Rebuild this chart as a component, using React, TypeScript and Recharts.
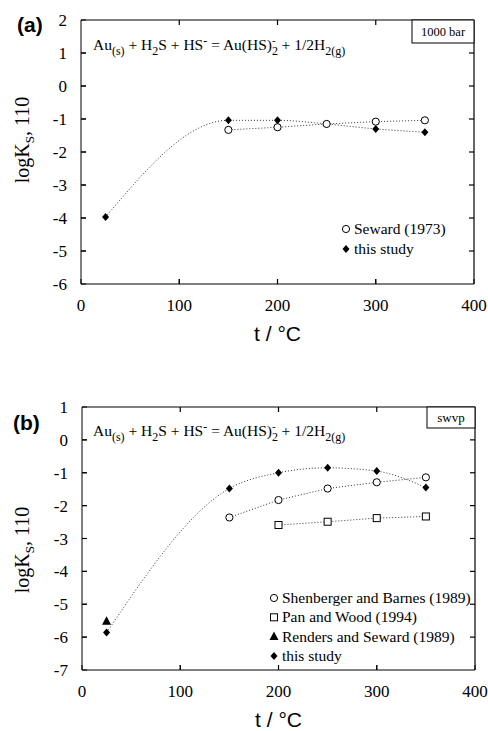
import { ComposedChart, Line, XAxis, YAxis } from 'recharts';

// panel (a) — 1000 bar
const A_STUDY_T = [25, 150, 200, 250, 300, 350];
const A_STUDY_LOGK = [-3.97, -1.04, -1.04, -1.15, -1.3, -1.4];
const A_SEWARD_T = [150, 200, 250, 300, 350];
const A_SEWARD_LOGK = [-1.33, -1.25, -1.15, -1.08, -1.04];

// panel (b) — swvp
const B_STUDY_T = [25, 150, 200, 250, 300, 350];
const B_STUDY_LOGK = [-5.86, -1.48, -1.0, -0.85, -0.95, -1.45];
const B_SHEN_T = [150, 200, 250, 300, 350];
const B_SHEN_LOGK = [-2.36, -1.83, -1.48, -1.29, -1.14];
const B_PAN_T = [200, 250, 300, 350];
const B_PAN_LOGK = [-2.59, -2.49, -2.38, -2.33];
const B_RENDERS_T = [25];
const B_RENDERS_LOGK = [-5.52];

const X_TICKS = [0, 100, 200, 300, 400];
const A_Y_TICKS = [-6, -5, -4, -3, -2, -1, 0, 1, 2];
const B_Y_TICKS = [-7, -6, -5, -4, -3, -2, -1, 0, 1];

const SERIF = '"Times New Roman", "Liberation Serif", serif';
const SANS = 'Arial, "Liberation Sans", sans-serif';

const toPoints = (xs: number[], ys: number[]) => xs.map((x, i) => ({ x, y: ys[i] }));

type Marker = 'circle' | 'diamond' | 'square' | 'triangle';

function MarkerShape({ kind, cx, cy }: { kind: Marker; cx: number; cy: number }) {
  if (kind === 'circle') return <circle cx={cx} cy={cy} r={3.6} fill="#fff" stroke="#000" strokeWidth={1} />;
  if (kind === 'square') return <rect x={cx - 3.5} y={cy - 3.5} width={7} height={7} fill="#fff" stroke="#000" strokeWidth={1} />;
  if (kind === 'triangle')
    return <polygon points={`${cx},${cy - 5} ${cx + 4.5},${cy + 3.5} ${cx - 4.5},${cy + 3.5}`} fill="#000" />;
  return <polygon points={`${cx},${cy - 4} ${cx + 3.5},${cy} ${cx},${cy + 4} ${cx - 3.5},${cy}`} fill="#000" />;
}

const dotOf = (kind: Marker) => (p: any) => (
  <g key={`${kind}-${p.index}`}>
    <MarkerShape kind={kind} cx={p.cx} cy={p.cy} />
  </g>
);

const A_LEGEND: { name: string; kind: Marker }[] = [
  { name: 'Seward (1973)', kind: 'circle' },
  { name: 'this study', kind: 'diamond' },
];
const B_LEGEND: { name: string; kind: Marker }[] = [
  { name: 'Shenberger and Barnes (1989)', kind: 'circle' },
  { name: 'Pan and Wood (1994)', kind: 'square' },
  { name: 'Renders and Seward (1989)', kind: 'triangle' },
  { name: 'this study', kind: 'diamond' },
];

function LegendRows({ items, x, y, rowH }: { items: { name: string; kind: Marker }[]; x: number; y: number; rowH: number }) {
  return (
    <g>
      {items.map((it, i) => (
        <g key={it.name}>
          <MarkerShape kind={it.kind} cx={x} cy={y + i * rowH} />
          <text x={x + 8} y={y + i * rowH + 5} fontFamily={SERIF} fontSize={15.5} fill="#000">
            {it.name}
          </text>
        </g>
      ))}
    </g>
  );
}

// plot frame with inward ticks on all four sides
function Frame({ x0, x1, y0, y1, yTicks }: { x0: number; x1: number; y0: number; y1: number; yTicks: number[] }) {
  const t = 5;
  const yMin = yTicks[0];
  const yMax = yTicks[yTicks.length - 1];
  const px = (v: number) => x0 + ((v - X_TICKS[0]) / (X_TICKS[X_TICKS.length - 1] - X_TICKS[0])) * (x1 - x0);
  const py = (v: number) => y1 - ((v - yMin) / (yMax - yMin)) * (y1 - y0);
  const seg = (key: string, xa: number, ya: number, xb: number, yb: number) => (
    <path key={key} d={`M${xa},${ya}L${xb},${yb}`} stroke="#000" strokeWidth={1.2} fill="none" />
  );
  return (
    <g>
      {seg('top', x0, y0, x1, y0)}
      {seg('right', x1, y0, x1, y1)}
      {X_TICKS.slice(1, -1).map((v) => seg(`xt${v}`, px(v), y0, px(v), y0 + t))}
      {X_TICKS.slice(1, -1).map((v) => seg(`xb${v}`, px(v), y1, px(v), y1 - t))}
      {yTicks.slice(1, -1).map((v) => seg(`yl${v}`, x0, py(v), x0 + t, py(v)))}
      {yTicks.slice(1, -1).map((v) => seg(`yr${v}`, x1, py(v), x1 - t, py(v)))}
    </g>
  );
}

function YLabel({ cy }: { cy: number }) {
  return (
    <text transform={`translate(29, ${cy}) rotate(-90)`} textAnchor="middle" fontFamily={SERIF} fontSize={20} fill="#000">
      logK<tspan dy={5} fontSize={13}>S</tspan>
      <tspan dy={-5}>, 110</tspan>
    </text>
  );
}

function Equation({ x, y }: { x: number; y: number }) {
  const sub = 5;
  return (
    <text x={x} y={y} fontFamily={SERIF} fontSize={15.5} fill="#000">
      Au<tspan dy={sub} fontSize={12}>(s)</tspan>
      <tspan dy={-sub}> + H</tspan>
      <tspan dy={sub} fontSize={12}>2</tspan>
      <tspan dy={-sub}>S + HS</tspan>
      <tspan dy={-5} fontSize={12}>-</tspan>
      <tspan dy={5}> = Au(HS)</tspan>
      <tspan dy={sub} fontSize={12}>2</tspan>
      <tspan dx={-6} dy={-11} fontSize={11}>-</tspan>
      <tspan dx={2} dy={6}> + 1/2H</tspan>
      <tspan dy={sub} fontSize={12}>2(g)</tspan>
    </text>
  );
}

const axisTick = { fill: '#000', fontSize: 17, fontFamily: SERIF };
const lineStyle = { stroke: '#333', strokeWidth: 1, strokeDasharray: '1 2' };

export default function App() {
  const aSeward = toPoints(A_SEWARD_T, A_SEWARD_LOGK);
  const aStudy = toPoints(A_STUDY_T, A_STUDY_LOGK);
  const bShen = toPoints(B_SHEN_T, B_SHEN_LOGK);
  const bPan = toPoints(B_PAN_T, B_PAN_LOGK);
  const bRenders = toPoints(B_RENDERS_T, B_RENDERS_LOGK);
  const bStudy = toPoints(B_STUDY_T, B_STUDY_LOGK);

  return (
    <div style={{ position: 'absolute', left: 0, top: 0, width: 488, height: 731, background: '#fff' }}>
      <div style={{ position: 'absolute', left: 0, top: 0 }}>
        <ComposedChart width={488} height={360} margin={{ top: 20, right: 14, left: 41, bottom: 46 }}>
          <XAxis xAxisId="b" dataKey="x" type="number" domain={[0, 400]} ticks={X_TICKS} height={30} stroke="#000"
            tickSize={-5} tickMargin={20} tick={axisTick}
            label={{ value: 't / °C', position: 'bottom', offset: 12, fill: '#000', fontSize: 21, fontFamily: SANS }} />
          <YAxis yAxisId="l" type="number" domain={[-6, 2]} ticks={A_Y_TICKS} width={40} stroke="#000"
            tickSize={-5} tickMargin={19} tick={axisTick} />
          <Line data={aStudy} dataKey="y" xAxisId="b" yAxisId="l" type="monotone" {...lineStyle} dot={dotOf('diamond')} isAnimationActive={false} name="this study" />
          <Line data={aSeward} dataKey="y" xAxisId="b" yAxisId="l" type="linear" {...lineStyle} dot={dotOf('circle')} isAnimationActive={false} name="Seward (1973)" />
        </ComposedChart>
      </div>
      <div style={{ position: 'absolute', left: 0, top: 370 }}>
        <ComposedChart width={488} height={361} margin={{ top: 37, right: 13, left: 42, bottom: 31 }}>
          <XAxis xAxisId="b" dataKey="x" type="number" domain={[0, 400]} ticks={X_TICKS} height={30} stroke="#000"
            tickSize={-5} tickMargin={20} tick={axisTick}
            label={{ value: 't / °C', position: 'bottom', offset: 12, fill: '#000', fontSize: 21, fontFamily: SANS }} />
          <YAxis yAxisId="l" type="number" domain={[-7, 1]} ticks={B_Y_TICKS} width={40} stroke="#000"
            tickSize={-5} tickMargin={19} tick={axisTick} />
          <Line data={bStudy} dataKey="y" xAxisId="b" yAxisId="l" type="monotone" {...lineStyle} dot={dotOf('diamond')} isAnimationActive={false} name="this study" />
          <Line data={bShen} dataKey="y" xAxisId="b" yAxisId="l" type="linear" {...lineStyle} dot={dotOf('circle')} isAnimationActive={false} name="Shenberger and Barnes (1989)" />
          <Line data={bPan} dataKey="y" xAxisId="b" yAxisId="l" type="linear" {...lineStyle} dot={dotOf('square')} isAnimationActive={false} name="Pan and Wood (1994)" />
          <Line data={bRenders} dataKey="y" xAxisId="b" yAxisId="l" stroke="none" dot={dotOf('triangle')} isAnimationActive={false} name="Renders and Seward (1989)" />
        </ComposedChart>
      </div>
      <svg width={488} height={731} style={{ position: 'absolute', left: 0, top: 0, pointerEvents: 'none' }}>
        <Frame x0={81} x1={474} y0={20} y1={284} yTicks={A_Y_TICKS} />
        <Frame x0={82} x1={475} y0={407} y1={670} yTicks={B_Y_TICKS} />
        <text x={17} y={32} fontFamily={SANS} fontWeight="bold" fontSize={21} fill="#000">(a)</text>
        <text x={13} y={430} fontFamily={SANS} fontWeight="bold" fontSize={21} fill="#000">(b)</text>
        <YLabel cy={140} />
        <YLabel cy={550} />
        <Equation x={93} y={50} />
        <Equation x={93} y={436} />
        <rect x={412} y={20} width={62} height={23} fill="#fff" stroke="#000" strokeWidth={1} />
        <text x={443} y={36} textAnchor="middle" fontFamily={SERIF} fontSize={12.5} fill="#000">1000 bar</text>
        <rect x={427} y={407} width={48} height={21} fill="#fff" stroke="#000" strokeWidth={1} />
        <text x={451} y={422} textAnchor="middle" fontFamily={SERIF} fontSize={13} fill="#000">swvp</text>
        <LegendRows items={A_LEGEND} x={346} y={229} rowH={20} />
        <LegendRows items={B_LEGEND} x={274} y={598} rowH={19.3} />
      </svg>
    </div>
  );
}
